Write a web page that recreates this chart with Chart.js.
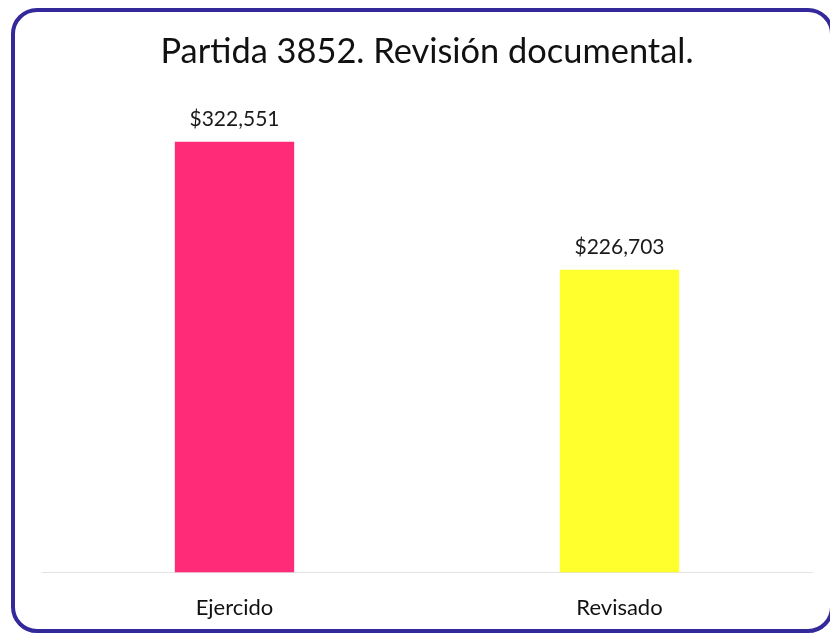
<!DOCTYPE html>
<html>
<head>
<meta charset="utf-8">
<script src="https://cdn.jsdelivr.net/npm/chart.js@4.4.0/dist/chart.umd.min.js"></script>
<style>
  html, body { margin: 0; padding: 0; background: #fff; }
  #wrap { position: relative; width: 830px; height: 635px; overflow: hidden; }
  #frame {
    position: absolute; left: 11px; top: 8px; width: 815px; height: 617px;
    border: 4px solid #33299a; border-radius: 26px; box-sizing: content-box;
  }
  #chart { position: absolute; left: 0; top: 0; }
</style>
</head>
<body>
<div id="wrap">
  <div id="frame"></div>
  <canvas id="chart" width="830" height="635"></canvas>
</div>
<script>
// chart data
var categories = ['Ejercido', 'Revisado'];
var amounts = [322551, 226703];
var barColors = ['#ff2a78', '#ffff2e'];
var chartTitle = 'Partida 3852. Revisión documental.';

var fontFamily = 'Lato, "Noto Sans", sans-serif';

var money = function (v) {
  return '$' + v.toLocaleString('en-US');
};

// labels above the bars
var valueLabels = {
  id: 'valueLabels',
  afterDatasetsDraw: function (chart) {
    var ctx = chart.ctx;
    var meta = chart.getDatasetMeta(0);
    ctx.save();
    ctx.font = '21px ' + fontFamily;
    ctx.fillStyle = '#1a1a1a';
    ctx.textAlign = 'center';
    ctx.textBaseline = 'bottom';
    meta.data.forEach(function (bar, i) {
      ctx.fillText(money(amounts[i]), bar.x, bar.y - 12);
    });
    ctx.restore();
  }
};

new Chart(document.getElementById('chart'), {
  type: 'bar',
  data: {
    labels: categories,
    datasets: [{
      data: amounts,
      backgroundColor: barColors,
      borderWidth: 0,
      barPercentage: 0.31,
      categoryPercentage: 1
    }]
  },
  options: {
    responsive: false,
    animation: false,
    layout: { padding: { left: 42, right: 18, top: 12, bottom: 0 } },
    plugins: {
      legend: { display: false },
      tooltip: { enabled: false },
      title: {
        display: true,
        text: chartTitle,
        color: '#111',
        font: { family: fontFamily, size: 34.4, weight: 'normal' },
        padding: { top: 19, bottom: 22 }
      }
    },
    scales: {
      x: {
        grid: { display: false },
        border: { display: true, color: '#e2e2e2', width: 1 },
        ticks: { color: '#111', font: { family: fontFamily, size: 22 }, padding: 14 }
      },
      y: {
        display: false,
        min: 0,
        max: 358000
      }
    }
  },
  plugins: [valueLabels]
});
</script>
</body>
</html>
